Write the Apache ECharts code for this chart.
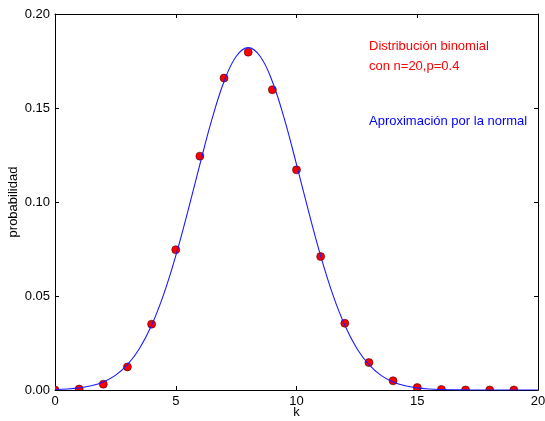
<!DOCTYPE html>
<html><head><meta charset="utf-8">
<script src="https://cdn.jsdelivr.net/npm/echarts@6/dist/echarts.min.js"></script>
<style>html,body{margin:0;padding:0;background:#fff}#c{width:545px;height:421px}</style>
</head><body><div id="c"></div>
<script>
// Binomial n=20, p=0.4 probabilities
const kValues = [0,1,2,3,4,5,6,7,8,9,10,11,12,13,14,15,16,17,18,19];
const binomProb = [0.00004,0.0005,0.0031,0.0123,0.035,0.0746,0.1244,0.1659,0.1797,0.1597,0.1171,0.0710,0.0355,0.0146,0.0049,0.0013,0.0003,0.00004,0.000005,0.0000004];
// Normal approximation curve, sampled every 0.5 along k
const curveX = [0,0.5,1,1.5,2,2.5,3,3.5,4,4.5,5,5.5,6,6.5,7,7.5,8,8.5,9,9.5,10,10.5,11,11.5,12,12.5,13,13.5,14,14.5,15,15.5,16,16.5,17,17.5,18,18.5,19,19.5,20];
const curveY = [0.00023,0.00052,0.00111,0.00223,0.00428,0.0078,0.01347,0.0221,0.03439,0.05083,0.07131,0.09496,0.12004,0.14405,0.16408,0.17741,0.18209,0.17741,0.16408,0.14405,0.12004,0.09496,0.07131,0.05083,0.03439,0.0221,0.01347,0.0078,0.00428,0.00223,0.00111,0.00052,0.00023,0.0001,0.00004,0.00002,0.000005,0.000002,0.000001,0,0];
const xTicks = [0,5,10,15,20];
const yTicks = ['0.00','0.05','0.10','0.15','0.20'];
const annotations = ['Distribución binomial','con n=20,p=0.4','Aproximación por la normal'];

const font = 'Liberation Sans, Arial, sans-serif';
const chart = echarts.init(document.getElementById('c'));
const axisCommon = {
  axisLine:{show:true,onZero:false,lineStyle:{color:'#000',width:1}},
  axisTick:{show:true,inside:true,length:4,lineStyle:{color:'#000'}},
  splitLine:{show:false}
};
chart.setOption({
  animation:false,
  grid:{left:55,right:7,top:14,bottom:31,outerBoundsMode:'none',containLabel:false},
  xAxis:[
    Object.assign({type:'value',min:0,max:20,interval:5,position:'bottom',
      name:'k',nameLocation:'middle',nameGap:16,nameMoveOverlap:false,nameTextStyle:{color:'#000',fontSize:13,fontFamily:font},
      axisLabel:{color:'#000',fontSize:13,fontFamily:font,margin:5,formatter:v=>String(v)}},axisCommon),
    Object.assign({type:'value',min:0,max:20,interval:5,position:'top',axisLabel:{show:false}},axisCommon)
  ],
  yAxis:[
    Object.assign({type:'value',min:0,max:0.2,interval:0.05,position:'left',
      name:'probabilidad',nameLocation:'middle',nameGap:35,nameMoveOverlap:false,nameRotate:90,nameTextStyle:{color:'#000',fontSize:13,fontFamily:font},
      axisLabel:{color:'#000',fontSize:13,fontFamily:font,margin:5,formatter:v=>yTicks[Math.round(v/0.05)]}},axisCommon),
    Object.assign({type:'value',min:0,max:0.2,interval:0.05,position:'right',axisLabel:{show:false}},axisCommon)
  ],
  series:[
    {type:'custom',clip:true,z:2,
      data:kValues.map((k,i)=>[k,binomProb[i]]),
      renderItem:function(params,api){
        const p = api.coord([api.value(0),api.value(1)]);
        return {type:'circle',shape:{cx:p[0],cy:p[1],r:4},
          style:{fill:'#ff0000',stroke:'#4a0000',lineWidth:0.6}};
      }},
    {type:'line',data:curveX.map((x,i)=>[x,curveY[i]]),smooth:0.4,showSymbol:false,
      lineStyle:{color:'#1a1aff',width:1.1},clip:true,z:3}
  ],
  graphic:[
    {type:'text',left:369,top:40,style:{text:annotations[0],fill:'#ff0000',font:'13px '+font}},
    {type:'text',left:369,top:60,style:{text:annotations[1],fill:'#ff0000',font:'13px '+font}},
    {type:'text',left:369,top:115,style:{text:annotations[2],fill:'#0000ff',font:'13px '+font}}
  ]
});
</script></body></html>
